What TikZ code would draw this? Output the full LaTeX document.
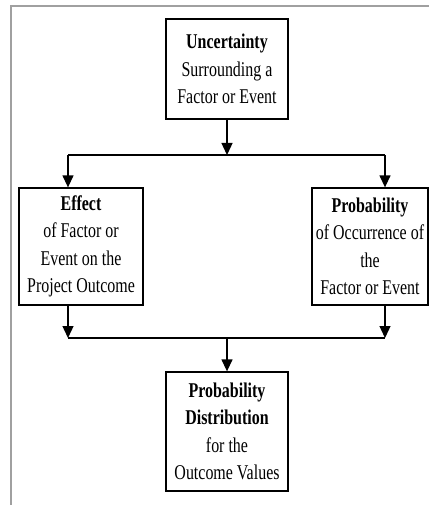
\documentclass[tikz,border=0pt]{standalone}
\usepackage{fontspec}
\setmainfont{Liberation Serif}[FakeStretch=0.76]
\usetikzlibrary{arrows.meta}
\usetikzlibrary{positioning}
\definecolor{framegray}{RGB}{160,160,160}
\tikzset{
  factorbox/.style args={#1,#2}{draw, line width=1.3pt, minimum width=#1, minimum height=#2, align=center, inner sep=0pt},
  flowarrow/.style={line width=1.3pt, -{Triangle[width=11pt,length=12pt]}}
}

\begin{document}
\begin{tikzpicture}[x=1pt, y=-1pt, every node/.style={font=\fontsize{21}{27.5}\selectfont}]
\useasboundingbox (0,0) rectangle (429,505);
\draw[framegray, line width=1.5pt] (11,505) -- (11,6) -- (429,6);
\node[factorbox={122pt,100pt}] (unc) at (227,69) {\textbf{Uncertainty}\\Surrounding a\\Factor or Event};
\node[factorbox={124pt,117pt}] (eff) at (81,246.5) {\textbf{Effect}\\of Factor or\\Event on the\\Project Outcome};
\node[factorbox={116pt,117pt}] (prob) at (370,246.5) {\textbf{Probability}\\of Occurrence of\\the\\Factor or Event};
\node[factorbox={122pt,119pt}] (dist) at (227,431.5) {\textbf{Probability}\\\textbf{Distribution}\\for the\\Outcome Values};
\coordinate (effin) at (68,155);
\coordinate (probin) at (385,155);
\coordinate (effout) at (68,338);
\coordinate (probout) at (385,338);
\draw[line width=1.3pt] (effin) -- (probin);
\draw[line width=1.3pt] (effout) -- (probout);
\draw[flowarrow] (unc.south) -- (unc.south |- effin);
\draw[flowarrow] (effin) -- (effin |- eff.north);
\draw[flowarrow] (probin) -- (probin |- prob.north);
\draw[flowarrow] (effout |- eff.south) -- (effout);
\draw[flowarrow] (probout |- prob.south) -- (probout);
\draw[flowarrow] (dist.north |- effout) -- (dist.north);
\end{tikzpicture}
\end{document}
